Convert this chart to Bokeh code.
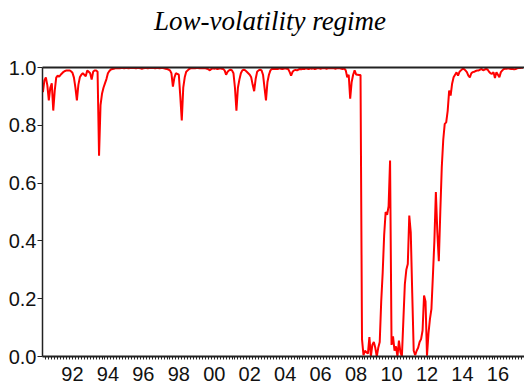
from bokeh.plotting import figure
from bokeh.models import LinearAxis, FixedTicker, Range1d, NumeralTickFormatter, ColumnDataSource
from bokeh.embed import file_html
from bokeh.resources import INLINE

# monthly smoothed probability of the low-volatility regime, starting 1990m11
start_year = 1990
start_month = 11
prob = [
    0.915, 0.955,                                                                      # 1990 Nov-Dec
    0.966, 0.938, 0.886, 0.930, 0.945, 0.851, 0.920, 0.965, 0.972, 0.968, 0.975, 0.980,  # 1991
    0.985, 0.988, 0.990, 0.990, 0.990, 0.987, 0.982, 0.965, 0.930, 0.886, 0.940, 0.966,  # 1992
    0.975, 0.980, 0.975, 0.970, 0.990, 0.985, 0.980, 0.958, 0.985, 0.990, 0.990, 0.985,  # 1993
    0.695, 0.870, 0.909, 0.930, 0.945, 0.960, 0.980, 0.988, 0.993, 0.995, 0.996, 0.997,  # 1994
    0.997, 0.998, 0.997, 0.998, 0.998, 0.997, 0.998, 0.998, 0.997, 0.998, 0.998, 0.998,  # 1995
    0.998, 0.997, 0.998, 0.998, 0.997, 0.996, 0.997, 0.998, 0.998, 0.997, 0.998, 0.998,  # 1996
    0.998, 0.998, 0.997, 0.998, 0.998, 0.997, 0.998, 0.998, 0.997, 0.996, 0.995, 0.993,  # 1997
    0.990, 0.980, 0.934, 0.965, 0.980, 0.978, 0.975, 0.900, 0.817, 0.930, 0.966, 0.985,  # 1998
    0.990, 0.995, 0.997, 0.997, 0.998, 0.997, 0.998, 0.998, 0.997, 0.998, 0.997, 0.998,  # 1999
    0.997, 0.996, 0.994, 0.990, 0.995, 0.997, 0.996, 0.997, 0.995, 0.996, 0.997, 0.996,  # 2000
    0.995, 0.990, 0.975, 0.985, 0.990, 0.993, 0.990, 0.980, 0.930, 0.851, 0.930, 0.958,  # 2001
    0.980, 0.990, 0.993, 0.990, 0.985, 0.980, 0.975, 0.966, 0.940, 0.918, 0.960, 0.985,  # 2002
    0.990, 0.993, 0.990, 0.975, 0.930, 0.886, 0.950, 0.975, 0.990, 0.995, 0.996, 0.995,  # 2003
    0.996, 0.995, 0.997, 0.996, 0.995, 0.996, 0.997, 0.996, 0.995, 0.985, 0.972, 0.985,  # 2004
    0.990, 0.992, 0.990, 0.993, 0.995, 0.994, 0.996, 0.995, 0.997, 0.996, 0.995, 0.997,  # 2005
    0.996, 0.997, 0.995, 0.996, 0.998, 0.997, 0.996, 0.997, 0.998, 0.997, 0.996, 0.997,  # 2006
    0.998, 0.997, 0.998, 0.997, 0.996, 0.997, 0.998, 0.997, 0.996, 0.995, 0.997, 0.990,  # 2007
    0.966, 0.975, 0.892, 0.950, 0.975, 0.990, 0.976, 0.975, 0.974, 0.974, 0.060, 0.005,  # 2008
    0.020, 0.015, 0.010, 0.067, 0.000, 0.040, 0.050, 0.030, 0.000, 0.030, 0.050, 0.190,  # 2009
    0.290, 0.420, 0.500, 0.490, 0.520, 0.678, 0.040, 0.070, 0.020, 0.035, 0.000, 0.055,  # 2010
    0.015, 0.000, 0.125, 0.250, 0.300, 0.320, 0.488, 0.430, 0.220, 0.020, 0.005, 0.020,  # 2011
    0.030, 0.050, 0.060, 0.090, 0.211, 0.190, 0.003, 0.080, 0.130, 0.165, 0.280, 0.400,  # 2012
    0.569, 0.430, 0.330, 0.500, 0.655, 0.750, 0.805, 0.810, 0.850, 0.920, 0.903, 0.944,  # 2013
    0.966, 0.975, 0.983, 0.972, 0.985, 0.990, 0.995, 0.995, 0.990, 0.984, 0.972, 0.966,  # 2014
    0.980, 0.984, 0.985, 0.988, 0.990, 0.990, 0.993, 0.995, 0.990, 0.993, 0.995, 0.993,  # 2015
    0.985, 0.980, 0.978, 0.984, 0.964, 0.984, 0.975, 0.966, 0.984, 0.990, 0.995, 0.996,  # 2016
    0.996, 0.997, 0.996, 0.995, 0.995, 0.994, 0.995, 0.997, 0.998, 0.998, 0.999, 0.999,  # 2017
]

y_ticks = [0.0, 0.2, 0.4, 0.6, 0.8, 1.0]
label_years = [1992, 1994, 1996, 1998, 2000, 2002, 2004, 2006, 2008, 2010, 2012, 2014, 2016]
label_texts = ["92", "94", "96", "98", "00", "02", "04", "06", "08", "10", "12", "14", "16"]
title_text = "Low-volatility regime"

t0 = start_year + (start_month - 1) / 12.0
dates = [t0 + i / 12.0 for i in range(len(prob))]
src = ColumnDataSource(data=dict(t=dates, p=prob))

FONT = "Liberation Sans"
INK = "#222222"
X0, X1 = 1990.81, 2018.0

p = figure(width=524, height=389, output_backend="svg", toolbar_location=None,
           x_range=Range1d(X0, X1), y_range=Range1d(0.0, 1.0),
           min_border_left=42, min_border_right=0, min_border_top=67, min_border_bottom=33)
p.outline_line_color = None
p.xgrid.visible = False
p.ygrid.visible = False
p.background_fill_color = "white"
p.border_fill_color = "white"

# left axis
ya = p.yaxis[0]
ya.ticker = FixedTicker(ticks=y_ticks)
ya.formatter = NumeralTickFormatter(format="0.0")
ya.major_tick_out = 5
ya.major_tick_in = 0
ya.minor_tick_line_color = None
ya.major_label_text_font = FONT
ya.major_label_text_font_size = "20px"
ya.major_label_text_color = "#111111"
ya.major_label_standoff = 1
ya.axis_line_width = 1.5
ya.axis_line_color = INK
ya.major_tick_line_color = INK

# bottom axis: labels centred in each even year, 2-month minor ticks
label_pos = [y + 0.5 for y in label_years]
minor_marks = [y + k / 6.0 for y in range(1991, 2018) for k in range(0, 6)] + [2018.0]
xa = p.xaxis[0]
xa.ticker = FixedTicker(ticks=label_pos, minor_ticks=minor_marks)
xa.major_label_overrides = {pos: txt for pos, txt in zip(label_pos, label_texts)}
xa.major_tick_out = 0
xa.major_tick_in = 0
xa.major_tick_line_color = None
xa.minor_tick_out = 3
xa.minor_tick_in = 0
xa.minor_tick_line_color = INK
xa.major_label_text_font = FONT
xa.major_label_text_font_size = "20px"
xa.major_label_text_color = "#111111"
xa.major_label_standoff = 7
xa.axis_line_width = 2
xa.axis_line_color = INK

# top frame line
xt = LinearAxis(ticker=FixedTicker(ticks=[]), axis_line_width=2, axis_line_color=INK,
                major_tick_line_color=None, minor_tick_line_color=None,
                major_tick_out=0, major_tick_in=0, minor_tick_out=0, minor_tick_in=0,
                major_label_standoff=0)
p.add_layout(xt, "above")

# title carried as the label of an invisible top axis; a trailing em space nudges it left of centre
title_axis = LinearAxis(ticker=FixedTicker(ticks=[]),
                        axis_line_color=None, major_tick_line_color=None, minor_tick_line_color=None,
                        major_tick_out=0, major_tick_in=0, minor_tick_out=0, minor_tick_in=0,
                        major_label_standoff=0,
                        axis_label=title_text + "\u2003", axis_label_standoff=32,
                        axis_label_text_font="Liberation Serif", axis_label_text_font_style="italic",
                        axis_label_text_font_size="27px", axis_label_text_color="black")
p.add_layout(title_axis, "above")

p.line("t", "p", source=src, line_color="#ff0000", line_width=2)

open("out.html", "w").write(file_html(p, INLINE))
